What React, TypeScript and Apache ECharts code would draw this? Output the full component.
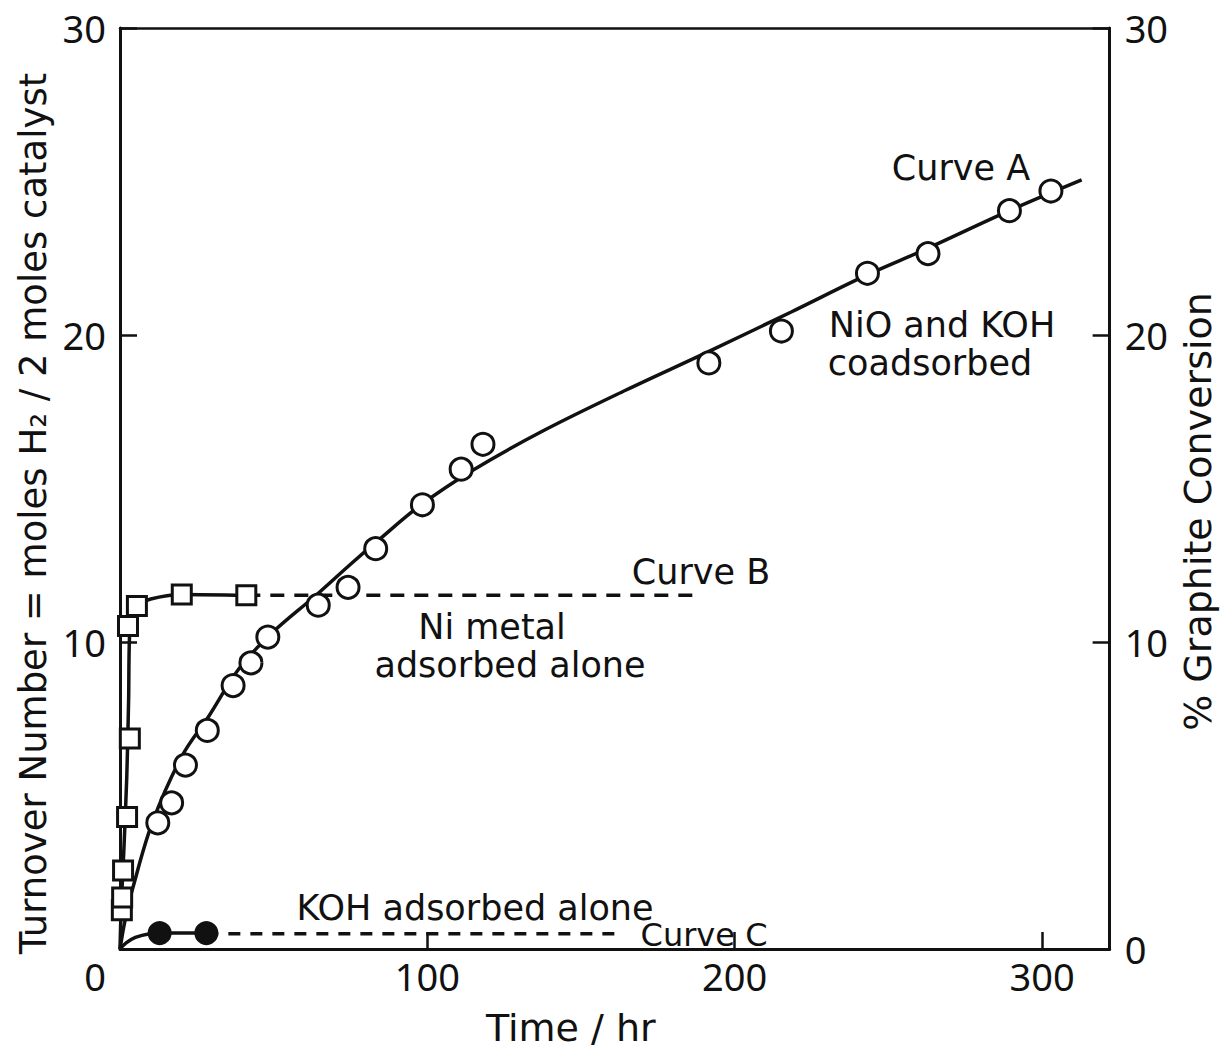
import React, { useEffect, useRef } from "react";
import * as echarts from "echarts";

// ---- data ----
const xTicks = [0, 100, 200, 300];
const yTicks = [0, 10, 20, 30];

// Curve A: NiO and KOH coadsorbed (open circles)
const curveATime = [12.3, 16.8, 21.3, 28.4, 36.8, 42.6, 48.1, 64.5, 74.2, 83.2, 98.4, 111.0, 118.1, 191.6, 215.2, 243.2, 262.9, 289.4, 302.9];
const curveATurnover = [4.11, 4.76, 5.99, 7.12, 8.58, 9.32, 10.16, 11.2, 11.78, 13.04, 14.47, 15.63, 16.44, 19.09, 20.13, 22.01, 22.65, 24.05, 24.69];
// Curve A drawn line
const curveALineTime = [0, 1.6, 4.2, 10.6, 20.3, 29, 38.7, 49.4, 63.5, 75.2, 83.9, 97.7, 115.2, 137.7, 164.5, 191.3, 218.4, 242.9, 262.3, 289.4, 312.9];
const curveALineTurnover = [0, 0.91, 2.0, 4.14, 6.31, 7.6, 9.13, 10.29, 11.5, 12.55, 13.3, 14.45, 15.62, 16.88, 18.2, 19.45, 20.75, 21.95, 22.8, 24.05, 25.05];

// Curve B: Ni metal adsorbed alone (open squares)
const curveBTime = [0.6, 0.7, 1.0, 2.3, 3.2, 2.6, 5.5, 20.1, 41.1];
const curveBTurnover = [1.26, 1.68, 2.56, 4.3, 6.86, 10.52, 11.17, 11.55, 11.52];
const curveBLineTime = [0, 0.4, 1.2, 2.2, 2.8, 3.2, 5.5, 10, 20.1, 41.1];
const curveBLineTurnover = [0, 1.4, 3.1, 5.6, 8.1, 10.4, 11.15, 11.4, 11.55, 11.52];
const curveBDashTime = [41.1, 186.5];
const curveBDashTurnover = [11.52, 11.52];

// Curve C: KOH adsorbed alone (filled circles)
const curveCTime = [12.9, 28.1];
const curveCTurnover = [0.52, 0.52];
const curveCLineTime = [0, 2, 5, 9.7, 12.9, 28.1];
const curveCLineTurnover = [0, 0.2, 0.38, 0.5, 0.52, 0.52];
const curveCDashTime = [28.1, 163.9];
const curveCDashTurnover = [0.5, 0.5];

const zip = (a: number[], b: number[]) => a.map((v, i) => [v, b[i]]);

const FONT = "Noto Sans";
const TEXT_FONT = "DejaVu Sans";
const INK = "#111";

export default function App() {
  const ref = useRef<HTMLDivElement>(null);
  useEffect(() => {
    if (!ref.current) return;
    const chart = echarts.init(ref.current, undefined, { renderer: "svg" });
    const axisLine = { show: true, onZero: false, lineStyle: { color: INK, width: 3 } };
    const axisTick = { show: true, inside: true, length: 17, lineStyle: { color: INK, width: 2.5 } };
    const labelStyle = { color: INK, fontFamily: FONT, fontSize: 38 };
    const annot = (text: string, x: number, y: number, size = 35) => ({
      type: "text",
      x,
      y,
      z: 10,
      style: { text, fill: INK, font: `${size}px "${TEXT_FONT}"`, textAlign: "center", textVerticalAlign: "middle" },
    });
    chart.setOption({
      animation: false,
      backgroundColor: "#fff",
      grid: { left: 120, right: 108, top: 28, bottom: 97, containLabel: false },
      xAxis: [
        {
          type: "value",
          min: 0,
          max: 322,
          interval: 100,
          name: "Time / hr",
          nameLocation: "middle",
          nameGap: 60,
          nameTextStyle: { color: INK, fontFamily: TEXT_FONT, fontSize: 38, padding: [0, 88, 0, 0] },
          axisLine,
          axisTick,
          splitLine: { show: false },
          axisLabel: {
            ...labelStyle,
            margin: 8,
            showMaxLabel: false,
            formatter: (v: number) => (xTicks.includes(v) ? (v === 0 ? "{z|0}" : String(v)) : ""),
            rich: { z: { ...labelStyle, padding: [0, 50, 0, 0] } },
          },
        },
        {
          type: "value",
          position: "top",
          min: 0,
          max: 322,
          axisLine: { show: true, onZero: false, lineStyle: { color: INK, width: 2.5 } },
          axisTick: { show: false },
          axisLabel: { show: false },
          splitLine: { show: false },
        },
      ],
      yAxis: [
        {
          type: "value",
          min: 0,
          max: 30,
          interval: 10,
          name: "Turnover Number = moles H₂ / 2 moles catalyst",
          nameLocation: "middle",
          nameGap: 66,
          nameRotate: 90,
          nameTextStyle: { color: INK, fontFamily: TEXT_FONT, fontSize: 37, padding: [0, 50, 0, 0] },
          axisLine,
          axisTick,
          splitLine: { show: false },
          axisLabel: {
            ...labelStyle,
            margin: 14,
            showMinLabel: false,
            formatter: (v: number) => (yTicks.includes(v) ? String(v) : ""),
          },
        },
        {
          type: "value",
          position: "right",
          min: 0,
          max: 30,
          interval: 10,
          name: "% Graphite Conversion",
          nameLocation: "middle",
          nameGap: 66,
          nameRotate: 90,
          nameTextStyle: { color: INK, fontFamily: TEXT_FONT, fontSize: 38, padding: [0, 46, 0, 0] },
          axisLine,
          axisTick,
          splitLine: { show: false },
          axisLabel: {
            ...labelStyle,
            margin: 15,
            formatter: (v: number) => (yTicks.includes(v) ? String(v) : ""),
          },
        },
      ],
      series: [
        {
          name: "Curve A line",
          type: "line",
          smooth: 0.35,
          showSymbol: false,
          data: zip(curveALineTime, curveALineTurnover),
          lineStyle: { color: INK, width: 3.5 },
          z: 2,
        },
        {
          name: "Curve A",
          type: "scatter",
          symbol: "circle",
          symbolSize: 22,
          data: zip(curveATime, curveATurnover),
          itemStyle: { color: "#fff", borderColor: INK, borderWidth: 3, opacity: 1 },
          z: 3,
        },
        {
          name: "Curve B line",
          type: "line",
          smooth: 0.3,
          showSymbol: false,
          data: zip(curveBLineTime, curveBLineTurnover),
          lineStyle: { color: INK, width: 3.5 },
          z: 2,
        },
        {
          name: "Curve B dashed",
          type: "line",
          showSymbol: false,
          data: zip(curveBDashTime, curveBDashTurnover),
          lineStyle: { color: INK, width: 3.5, type: [14, 10] },
          z: 2,
        },
        {
          name: "Curve B",
          type: "scatter",
          symbol: "rect",
          symbolSize: 19,
          data: zip(curveBTime, curveBTurnover),
          itemStyle: { color: "#fff", borderColor: INK, borderWidth: 3, opacity: 1 },
          z: 3,
        },
        {
          name: "Curve C line",
          type: "line",
          smooth: 0.4,
          showSymbol: false,
          data: zip(curveCLineTime, curveCLineTurnover),
          lineStyle: { color: INK, width: 3.5 },
          z: 2,
        },
        {
          name: "Curve C dashed",
          type: "line",
          showSymbol: false,
          data: zip(curveCDashTime, curveCDashTurnover),
          lineStyle: { color: INK, width: 3.5, type: [12, 10] },
          z: 2,
        },
        {
          name: "Curve C",
          type: "scatter",
          symbol: "circle",
          symbolSize: 22,
          data: zip(curveCTime, curveCTurnover),
          itemStyle: { color: INK, borderColor: INK, borderWidth: 2, opacity: 1 },
          z: 3,
        },
      ],
      graphic: [
        annot("Curve A", 961, 168),
        annot("NiO and KOH", 942, 325),
        annot("coadsorbed", 930, 363),
        annot("Curve B", 701, 572),
        annot("Ni metal", 492, 627),
        annot("adsorbed alone", 510, 665),
        annot("KOH adsorbed alone", 475, 908),
        annot("Curve C", 704, 935, 32),
      ],
    });
    return () => chart.dispose();
  }, []);
  return (
    <div
      ref={ref}
      style={{ position: "absolute", left: 0, top: 0, width: 1225, height: 1052, background: "#fff" }}
    />
  );
}
